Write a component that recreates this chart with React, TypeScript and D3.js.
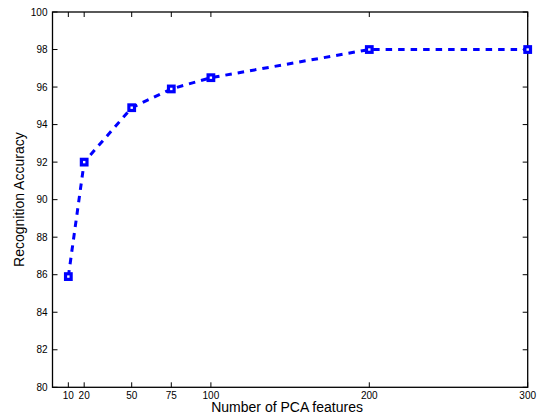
import React from "react";
import * as d3 from "d3";

const features = [10, 20, 50, 75, 100, 200, 300];
const accuracy = [85.9, 92.0, 94.9, 95.9, 96.5, 98.0, 98.0];
const xTicks = [10, 20, 50, 75, 100, 200, 300];
const yTicks = [80, 82, 84, 86, 88, 90, 92, 94, 96, 98, 100];

const W = 537;
const H = 416;
const L = 52.5;
const R = 527.7;
const T = 12;
const B = 387.3;

export default function App() {
  const x = d3.scaleLinear().domain([0, 300]).range([L, R]);
  const y = d3.scaleLinear().domain([80, 100]).range([B, T]);
  const pts = features.map((f, i) => [x(f), y(accuracy[i])] as [number, number]);
  const line = d3.line()(pts) || "";
  const font = "Liberation Sans, Arial, Helvetica, sans-serif";
  const tl = 5;
  return (
    <svg width={W} height={H} style={{ position: "absolute", left: 0, top: 0, background: "#fff" }}>
      <rect x={0} y={0} width={W} height={H} fill="#fff" />
      {xTicks.map((t) => (
        <g key={"x" + t}>
          <line x1={x(t)} x2={x(t)} y1={B} y2={B - tl} stroke="#000" strokeWidth={1} />
          <line x1={x(t)} x2={x(t)} y1={T} y2={T + tl} stroke="#000" strokeWidth={1} />
          <text x={x(t)} y={398.5} fontSize={10} fontFamily={font} textAnchor="middle" fill="#000">
            {t}
          </text>
        </g>
      ))}
      {yTicks.map((t) => (
        <g key={"y" + t}>
          <line x1={L} x2={L + tl} y1={y(t)} y2={y(t)} stroke="#000" strokeWidth={1} />
          <line x1={R} x2={R - tl} y1={y(t)} y2={y(t)} stroke="#000" strokeWidth={1} />
          <text x={47.5} y={y(t) + 3.6} fontSize={10} fontFamily={font} textAnchor="end" fill="#000">
            {t}
          </text>
        </g>
      ))}
      <rect x={L} y={T} width={R - L} height={B - T} fill="none" stroke="#000" strokeWidth={1.3} />
      <path d={line} fill="none" stroke="#0000ff" strokeWidth={3} strokeDasharray="6.5,6" />
      {pts.map((p, i) => (
        <rect key={i} x={p[0] - 2.8} y={p[1] - 2.8} width={5.6} height={5.6} fill="#fff" stroke="#0000ff" strokeWidth={3.2} />
      ))}
      <text x={(L + R) / 2 - 3} y={412} fontSize={14} fontFamily={font} textAnchor="middle" fill="#000">
        Number of PCA features
      </text>
      <text
        transform={`translate(23.5,${(T + B) / 2}) rotate(-90)`}
        fontSize={14}
        fontFamily={font}
        textAnchor="middle"
        fill="#000"
      >
        Recognition Accuracy
      </text>
    </svg>
  );
}
